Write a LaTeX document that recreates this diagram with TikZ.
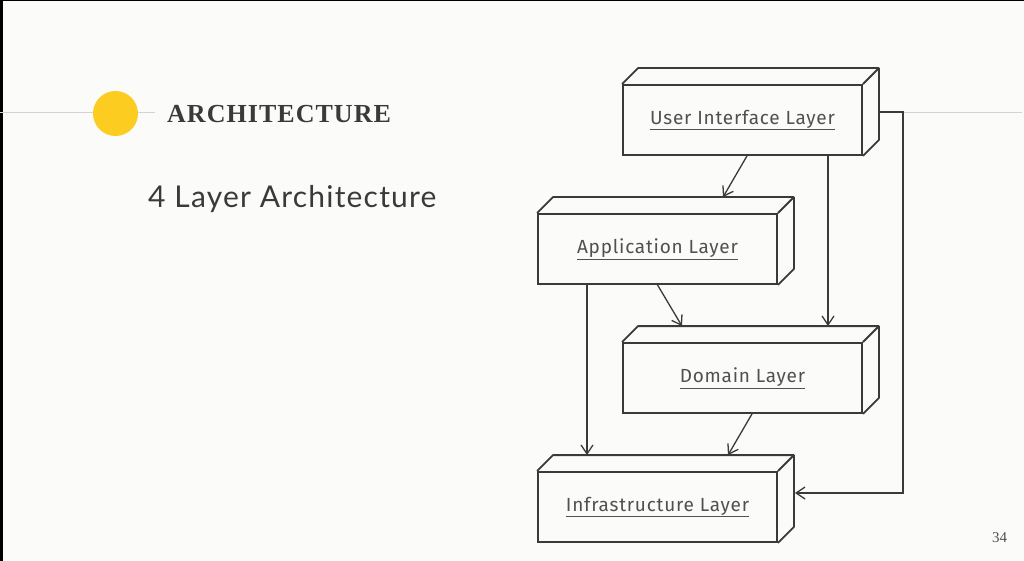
\documentclass[tikz,border=0pt]{standalone}
\usepackage{fontspec}
\setmainfont{Liberation Serif}
\newfontfamily\labelfont[LetterSpace=4]{Fira Sans}
\newfontfamily\subfont[LetterSpace=4]{Lato}
\newfontfamily\titlefont[LetterSpace=4]{Liberation Serif}
\usetikzlibrary{arrows.meta,calc}
\definecolor{bg}{RGB}{251,252,250}
\definecolor{ink}{RGB}{58,58,58}
\definecolor{txt}{RGB}{80,80,80}
\definecolor{gold}{RGB}{252,204,32}
\definecolor{rule}{RGB}{212,212,212}
\tikzset{
  layer/.style={draw=ink, line width=1.8pt, inner sep=0pt, minimum width=239pt,
    minimum height=70pt, text=txt, font=\labelfont\fontsize{19}{21}\selectfont},
  face/.style={draw=ink, line width=1.8pt, line join=round},
  conn/.style={draw=ink, line width=1.3pt, -{Straight Barb[length=9pt,width=12pt]}},
}
\newcommand\depth{16}
\newcommand\boxfaces[1]{%
  \draw[face] (#1.north west) -- ++(\depth,-\depth) -- ($(#1.north east)+(\depth,-\depth)$)
     -- ($(#1.south east)+(\depth,-\depth)$) -- (#1.south east);
  \draw[face] (#1.north east) -- ++(\depth,-\depth);
}
\begin{document}
\begin{tikzpicture}[x=1pt,y=-1pt]
\fill[bg] (0,0) rectangle (1024,561);
\useasboundingbox (0,0) rectangle (1024,561);
% frame edges
\fill[black] (0,0) rectangle (1024,1.5);
\fill[black] (0,0) rectangle (2.5,561);
% rule lines
\draw[rule, line width=1pt] (0,113) -- (155,113);
\draw[rule, line width=1pt] (903,113) -- (1022,113);
% bullet
\fill[gold] (115.5,113.5) circle (22.5);
% title
\node[anchor=base west, inner sep=0pt, text=ink, font=\titlefont\bfseries\fontsize{26}{28}\selectfont] (title) at (167,123) {ARCHITECTURE};
\node[anchor=base west, inner sep=0pt, text=ink, font=\subfont\fontsize{30}{32}\selectfont] (sub) at (148,208) {4 Layer Architecture};
\node[anchor=base, inner sep=0pt, text=txt, font=\fontsize{15}{17}\selectfont] (page) at (999.5,542) {34};
% layers
\node[layer] (ui) at (742.5,120) {\underline{User Interface Layer}};
\node[layer] (app) at (657.5,249) {\underline{Application Layer}};
\node[layer] (dom) at (742.5,378) {\underline{Domain Layer}};
\node[layer] (inf) at (657.5,507) {\underline{Infrastructure Layer}};
\boxfaces{ui}
\boxfaces{app}
\boxfaces{dom}
\boxfaces{inf}
% connectors
\draw[conn] ($(ui.south)+(4.5,0)$) -- ($(app.north)+(65.5,-16)$);
\draw[conn] ($(ui.south)+(85.5,0)$) -- ($(dom.north)+(85.5,-16)$);
\draw[conn] ($(ui.east)+(16,-8)$) -- ++(24,0) |- ($(inf.east)+(17,-14)$);
\draw[conn] ($(app.south)+(0,0)$) -- ($(dom.north)+(-60.5,-16)$);
\draw[conn] ($(app.south)+(-70.5,0)$) -- ($(inf.north)+(-70.5,-16)$);
\draw[conn] ($(dom.south)+(9.5,0)$) -- ($(inf.north)+(70.5,-16)$);
\end{tikzpicture}
\end{document}
